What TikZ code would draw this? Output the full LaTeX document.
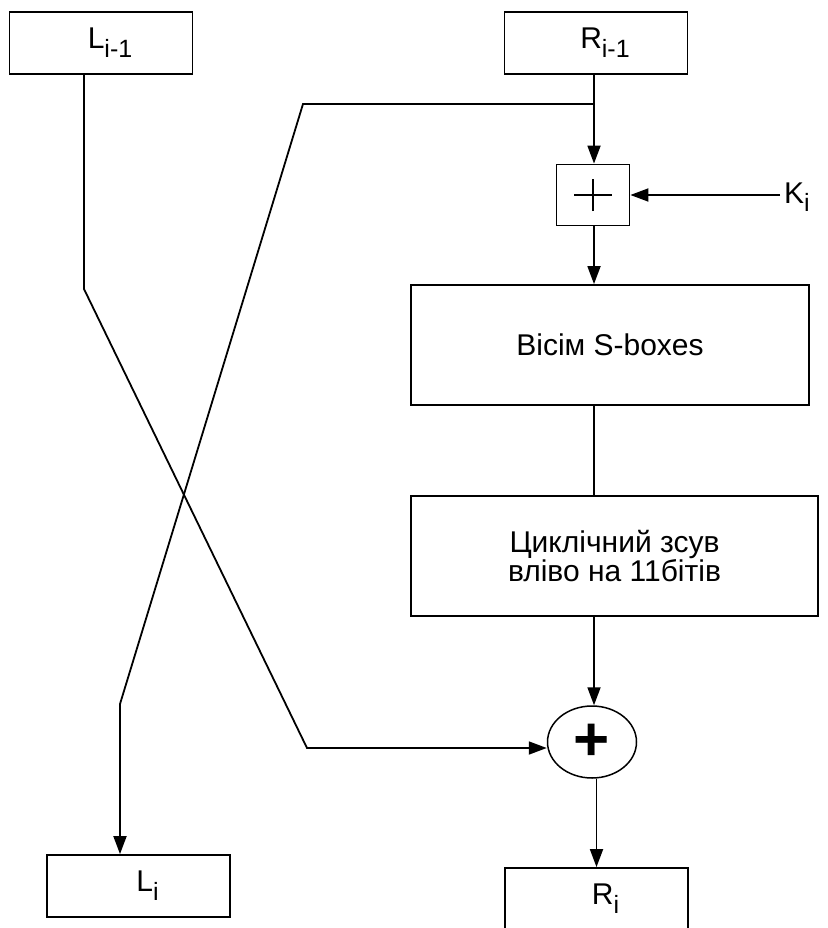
\documentclass[tikz,border=0pt]{standalone}
\usepackage{fontspec}
\setmainfont{Liberation Sans}
\usetikzlibrary{arrows.meta, shapes.geometric}
\newcommand{\lowidx}[1]{\raisebox{-0.3em}{\fontsize{25}{25}\selectfont #1}}
\tikzset{
  regbox/.style={rectangle, draw, line width=1.8pt, minimum width=183pt,
                minimum height=62pt, inner sep=0pt,
                label={[xshift=9pt, font=\fontsize{30}{30}\selectfont]center:#1}},
  stagebox/.style={rectangle, draw, line width=1.8pt, minimum height=120pt,
                align=center, font=\fontsize{30}{27}\selectfont},
  keybox/.style={rectangle, draw, line width=1.8pt, minimum width=73pt,
                minimum height=61pt, inner sep=0pt,
                path picture={
                  \draw[line width=1.3pt]
                    ([xshift=-19pt]path picture bounding box.center)
                    -- ([xshift=19pt]path picture bounding box.center)
                    ([yshift=-16pt]path picture bounding box.center)
                    -- ([yshift=16pt]path picture bounding box.center);
                }},
  sumnode/.style={ellipse, draw, line width=1.5pt, minimum width=89pt,
                minimum height=72pt, inner sep=0pt},
  flowarrow/.style={-{Triangle[length=18pt, width=13pt]}, line width=1.8pt},
  flowline/.style={line width=1.8pt},
}

\begin{document}
\begin{tikzpicture}[x=1pt, y=-1pt]
    % Coordinate map (units = pixels of the reference, y downwards):
    % (Lprev) at (101, 43)  -- (Rprev) at (596, 43)
    % (addkey) at (593, 195) -- (sbox) at (610, 345) -- (shift) at (614, 556)
    % (xorsum) at (592, 742) -- (Lnext) at (138, 886) -- (Rnext) at (596, 899)
    \useasboundingbox (0,0) rectangle (827,928);

    \node[regbox={L\lowidx{i-1}}] (Lprev) at (101, 43) {};
    \node[regbox={R\lowidx{i-1}}] (Rprev) at (596, 43) {};
    \node[keybox] (addkey) at (593, 195) {};
    \node[anchor=base west, inner sep=4pt, font=\fontsize{30}{30}\selectfont]
        (Kin) at (780, 203) {K\lowidx{i}};
    \node[stagebox, minimum width=398pt] (sbox) at (610, 345) {Вісім S-boxes};
    \node[stagebox, minimum width=407pt] (shift) at (614.5, 556)
        {Циклічний зсув\\вліво на 11бітів};
    \node[sumnode] (xorsum) at (592, 742)
        {\fontsize{62}{62}\selectfont\textbf{+}};
    \node[regbox={L\lowidx{i}}] (Lnext) at (138.5, 886) {};
    \node[regbox={R\lowidx{i}}] (Rnext) at (596.5, 899) {};

    \coordinate (rsplit) at (594, 104);
    \coordinate (rbend1) at (303, 104);
    \coordinate (rbend2) at (120, 704);
    \coordinate (lbend1) at (84, 289);
    \coordinate (lbend2) at (307, 748);

    % right half through the round function
    \draw[flowline] (Rprev.south -| rsplit) -- (rsplit);
    \draw[flowarrow] (rsplit) -- (rsplit |- addkey.north);
    \draw[flowarrow] (Kin.west |- addkey.east) -- (addkey.east);
    \draw[flowarrow] (addkey.south -| rsplit) -- (rsplit |- sbox.north);
    \draw[flowline] (sbox.south -| rsplit) -- (rsplit |- shift.north);
    \draw[flowarrow] (shift.south -| rsplit) -- (rsplit |- xorsum.north);
    \draw[flowarrow] (xorsum.south -| Rnext) -- (Rnext.north);

    % crossing wires
    \draw[flowarrow] (rsplit) -- (rbend1) -- (rbend2) -- (Lnext.north -| rbend2);
    \draw[flowarrow] (Lprev.south -| lbend1) -- (lbend1) -- (lbend2)
        -- (lbend2 -| xorsum.west);
\end{tikzpicture}
\end{document}
